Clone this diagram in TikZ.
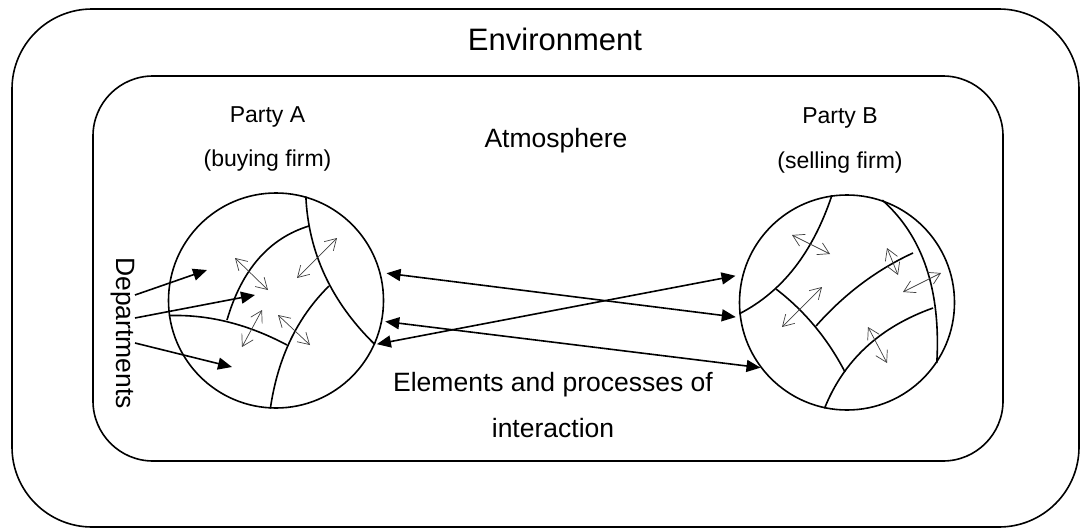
\documentclass[tikz,border=0pt]{standalone}
\usepackage{fontspec}
\setmainfont{Liberation Sans}
\usetikzlibrary{arrows.meta,positioning}

\begin{document}
\begin{tikzpicture}[
    x=1pt, y=-1pt,
    envbox/.style={draw=black, line width=1.6pt},
    firm/.style={circle, draw=black, line width=1.6pt, inner sep=0pt, minimum size=215pt},
    divider/.style={line width=1.6pt},
    link/.style={{Triangle[length=14pt,width=12pt]}-{Triangle[length=14pt,width=12pt]}, line width=1.6pt},
    pointer/.style={-{Triangle[length=14pt,width=12pt]}, line width=1.6pt},
    flow/.style={{Straight Barb[length=11pt,width=13pt]}-{Straight Barb[length=11pt,width=13pt]}, line width=0.7pt, draw=black!75},
    txt/.style={font=\fontsize{26.5}{32}\selectfont, anchor=base},
    party/.style={font=\fontsize{23}{28}\selectfont, anchor=base}
  ]
    \useasboundingbox (0,0) rectangle (1082,530);

    % environment and atmosphere
    \draw[envbox, rounded corners=80pt] (12,9) rectangle (1079,527);
    \draw[envbox, rounded corners=60pt] (93,76) rectangle (1003,461);

    \node[font=\fontsize{31}{37}\selectfont, anchor=base] (env) at (555,50) {Environment};
    \node[txt] (atm) at (556,147) {Atmosphere};

    % the two firms
    \node[party] (pa) at (267.5,122) {Party A};
    \node[party, below=44pt of pa.base, anchor=base] (buy) {(buying firm)};
    \node[party] (pb) at (840,123) {Party B};
    \node[party, below=45pt of pb.base, anchor=base] (sell) {(selling firm)};

    \node[firm] (fa) at (276,300.5) {};
    \node[firm] (fb) at (847,302.5) {};

    % departments inside party A
    \draw[divider] (fa.74) .. controls (308.3,252) and (331,301.7) .. (fa.336);
    \draw[divider] (309,226) .. controls (269,238.3) and (241.7,269.7) .. (227,320);
    \draw[divider] (fa.188) .. controls (209,314.3) and (248,324.3) .. (287,345);
    \draw[divider] (329,286) .. controls (297.3,317.3) and (277.7,357.7) .. (fa.267);

    % departments inside party B
    \draw[divider] (fb.98) .. controls (812.7,252.7) and (782.3,291.7) .. (fb.186);
    \draw[divider] (776,289) .. controls (804.7,311) and (827.7,338.7) .. (845,372);
    \draw[divider] (816,326) .. controls (844.3,294) and (876.7,269.7) .. (913,253);
    \draw[divider] (fb.258) .. controls (843.7,360.3) and (879.7,327) .. (933,308);
    \draw[divider] (fb.71) .. controls (923,236.3) and (941,290.3) .. (fb.326);

    % exchanges between departments
    \draw[flow] (235,258) -- (268,290);
    \draw[flow] (297,278) -- (337,238);
    \draw[flow] (242,347) -- (262,310);
    \draw[flow] (278,315) -- (310,345);
    \draw[flow] (792,235) -- (830,254);
    \draw[flow] (887,248) -- (898,275);
    \draw[flow] (903,292) -- (941,273);
    \draw[flow] (782,327) -- (822,287);
    \draw[flow] (868,327) -- (887,363);

    % interaction
    \draw[link, shorten <=6pt, shorten >=4pt] (fa.15) -- (fb.188);
    \draw[link, shorten <=2pt, shorten >=7pt] (fa.336) -- (fb.165);
    \draw[link, shorten <=3pt] (fa.349) -- (fb.217);

    \node[txt] (elem) at (553,391) {Elements and processes of};
    \node[txt, below=46pt of elem.base, anchor=base] (inter) {interaction};

    % departments label
    \node[txt, rotate=-90, anchor=center] (dep) at (123,333) {Departments};
    \coordinate (s1) at (135,295);
    \coordinate (s2) at (135,318);
    \coordinate (s3) at (135,343);
    \coordinate (d1) at (207,270);
    \coordinate (d2) at (255,295);
    \coordinate (d3) at (232,367);
    \draw[pointer] (s1) -- (d1);
    \draw[pointer] (s2) -- (d2);
    \draw[pointer] (s3) -- (d3);
  \end{tikzpicture}
\end{document}
